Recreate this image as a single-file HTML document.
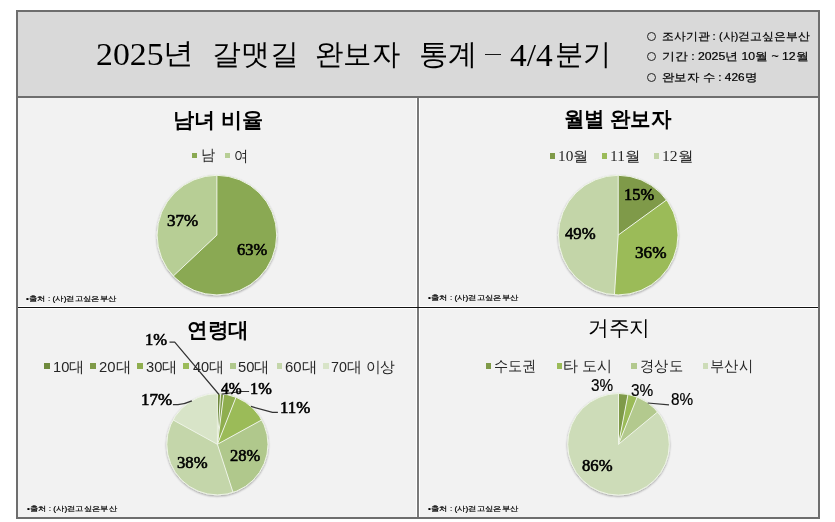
<!DOCTYPE html>
<html><head><meta charset="utf-8">
<style>
html,body{margin:0;padding:0;background:#fff;width:835px;height:522px;overflow:hidden}
.t{position:absolute;white-space:nowrap;line-height:1;color:#000;transform-origin:0 0}
#box{position:absolute;left:16px;top:10px;width:800px;height:505px;border:2px solid #6e6e6e;background:#f2f2f2}
#hdr{position:absolute;left:18px;top:12px;width:800px;height:84px;background:#d9d9d9;border-bottom:2px solid #6e6e6e}
#vdiv{position:absolute;left:417px;top:98px;width:2px;height:419px;background:#7a7a7a}
#hdiv{position:absolute;left:18px;top:307px;width:800px;height:1px;background:#111}
.wl{position:absolute;background:#fff}
.sq{position:absolute;width:5.4px;height:5.4px}
.ci{position:absolute;width:7px;height:7px;border:1.3px solid #222;border-radius:50%}
</style></head><body>
<div id="box"></div>
<div id="hdr"></div>
<div class="wl" style="left:18px;top:306px;width:800px;height:3px"></div>
<div class="wl" style="left:416px;top:98px;width:4px;height:419px"></div>
<div id="vdiv"></div>
<div id="hdiv"></div>
<svg width="835" height="522" style="position:absolute;left:0;top:0">
<defs><filter id="sh" x="-10%" y="-10%" width="120%" height="125%"><feGaussianBlur in="SourceAlpha" stdDeviation="1.2"/><feOffset dy="1.2"/><feComponentTransfer><feFuncA type="linear" slope="0.35"/></feComponentTransfer><feMerge><feMergeNode/><feMergeNode in="SourceGraphic"/></feMerge></filter></defs>
<g filter="url(#sh)"><path d="M216.9,235.1L216.90,175.30A59.8,59.8 0 1 1 173.31,276.04Z" fill="#8aa952"/>
<path d="M216.9,235.1L173.31,276.04A59.8,59.8 0 0 1 216.90,175.30Z" fill="#b7ce95"/>
<line x1="216.9" y1="235.1" x2="216.90" y2="175.30" stroke="#eef4e6" stroke-width="1.0"/>
<line x1="216.9" y1="235.1" x2="173.31" y2="276.04" stroke="#eef4e6" stroke-width="1.0"/>
<circle cx="216.9" cy="235.1" r="59.8" fill="none" stroke="#eef4e6" stroke-width="1.0"/></g>
<g filter="url(#sh)"><path d="M618.2,235.1L618.20,175.30A59.8,59.8 0 0 1 666.58,199.95Z" fill="#7f9a48"/>
<path d="M618.2,235.1L666.58,199.95A59.8,59.8 0 0 1 614.45,294.78Z" fill="#9bbb59"/>
<path d="M618.2,235.1L614.45,294.78A59.8,59.8 0 0 1 618.20,175.30Z" fill="#c3d5a8"/>
<line x1="618.2" y1="235.1" x2="618.20" y2="175.30" stroke="#eef4e6" stroke-width="1.0"/>
<line x1="618.2" y1="235.1" x2="666.58" y2="199.95" stroke="#eef4e6" stroke-width="1.0"/>
<line x1="618.2" y1="235.1" x2="614.45" y2="294.78" stroke="#eef4e6" stroke-width="1.0"/>
<circle cx="618.2" cy="235.1" r="59.8" fill="none" stroke="#eef4e6" stroke-width="1.0"/></g>
<g filter="url(#sh)"><path d="M217.4,444.3L217.40,393.70A50.6,50.6 0 0 1 220.58,393.80Z" fill="#6f8a3d"/>
<path d="M217.4,444.3L220.58,393.80A50.6,50.6 0 0 1 223.74,394.10Z" fill="#7f9a48"/>
<path d="M217.4,444.3L223.74,394.10A50.6,50.6 0 0 1 236.03,397.25Z" fill="#8fae4f"/>
<path d="M217.4,444.3L236.03,397.25A50.6,50.6 0 0 1 261.74,419.92Z" fill="#9bbb59"/>
<path d="M217.4,444.3L261.74,419.92A50.6,50.6 0 0 1 233.04,492.42Z" fill="#b0c88c"/>
<path d="M217.4,444.3L233.04,492.42A50.6,50.6 0 0 1 173.06,419.92Z" fill="#c4d6aa"/>
<path d="M217.4,444.3L173.06,419.92A50.6,50.6 0 0 1 217.40,393.70Z" fill="#d8e4c8"/>
<line x1="217.4" y1="444.3" x2="217.40" y2="393.70" stroke="#eef4e6" stroke-width="1.0"/>
<line x1="217.4" y1="444.3" x2="220.58" y2="393.80" stroke="#eef4e6" stroke-width="1.0"/>
<line x1="217.4" y1="444.3" x2="223.74" y2="394.10" stroke="#eef4e6" stroke-width="1.0"/>
<line x1="217.4" y1="444.3" x2="236.03" y2="397.25" stroke="#eef4e6" stroke-width="1.0"/>
<line x1="217.4" y1="444.3" x2="261.74" y2="419.92" stroke="#eef4e6" stroke-width="1.0"/>
<line x1="217.4" y1="444.3" x2="233.04" y2="492.42" stroke="#eef4e6" stroke-width="1.0"/>
<line x1="217.4" y1="444.3" x2="173.06" y2="419.92" stroke="#eef4e6" stroke-width="1.0"/>
<circle cx="217.4" cy="444.3" r="50.6" fill="none" stroke="#eef4e6" stroke-width="1.0"/></g>
<g filter="url(#sh)"><path d="M618.5,444.3L618.50,393.50A50.8,50.8 0 0 1 628.02,394.40Z" fill="#7f9a48"/>
<path d="M618.5,444.3L628.02,394.40A50.8,50.8 0 0 1 637.20,397.07Z" fill="#9bbb59"/>
<path d="M618.5,444.3L637.20,397.07A50.8,50.8 0 0 1 657.64,411.92Z" fill="#b3c98e"/>
<path d="M618.5,444.3L657.64,411.92A50.8,50.8 0 1 1 618.50,393.50Z" fill="#cddcb8"/>
<line x1="618.5" y1="444.3" x2="618.50" y2="393.50" stroke="#eef4e6" stroke-width="1.0"/>
<line x1="618.5" y1="444.3" x2="628.02" y2="394.40" stroke="#eef4e6" stroke-width="1.0"/>
<line x1="618.5" y1="444.3" x2="637.20" y2="397.07" stroke="#eef4e6" stroke-width="1.0"/>
<line x1="618.5" y1="444.3" x2="657.64" y2="411.92" stroke="#eef4e6" stroke-width="1.0"/>
<circle cx="618.5" cy="444.3" r="50.8" fill="none" stroke="#eef4e6" stroke-width="1.0"/></g>
<polyline points="169.5,342.2 174.7,342.2 219,394.5" fill="none" stroke="#333" stroke-width="1.2"/>
<polyline points="249.1,391.5 241.3,391.5 221.6,394.2" fill="none" stroke="#333" stroke-width="1.2"/>
<polyline points="250.9,406.4 272.5,412.4 277.9,412.4" fill="none" stroke="#333" stroke-width="1.2"/>
<path d="M172.9,404.7 L178,404.7 Q185,404 191.9,400.9" fill="none" stroke="#333" stroke-width="1.2"/>
<polyline points="647.7,403 669,404.8" fill="none" stroke="#333" stroke-width="1.2"/>
</svg>
<div class="t" style="left:96.44px;top:38.1px;font-size:32.5px;font-family:'Liberation Serif',serif;font-weight:normal;color:#000;transform:scaleX(1.0394)">2025</div>
<div class="t" style="left:163.19px;top:39.17px;font-size:29px;font-family:'Liberation Serif',serif;font-weight:normal;color:#000;transform:scaleX(1.0591)">년</div>
<div class="t" style="left:211.52px;top:39.52px;font-size:29px;font-family:'Liberation Serif',serif;font-weight:normal;color:#000;transform:scaleX(0.9932)">갈맷길</div>
<div class="t" style="left:315.44px;top:39.65px;font-size:29px;font-family:'Liberation Serif',serif;font-weight:normal;color:#000;transform:scaleX(0.978)">완보자</div>
<div class="t" style="left:419.03px;top:40.3px;font-size:29px;font-family:'Liberation Serif',serif;font-weight:normal;color:#000;transform:scaleX(1.0068)">통계</div>
<div class="t" style="left:510.19px;top:38.58px;font-size:32.5px;font-family:'Liberation Serif',serif;font-weight:normal;color:#000;transform:scaleX(1.0272)">4/4</div>
<div class="t" style="left:554.61px;top:39.95px;font-size:29px;font-family:'Liberation Serif',serif;font-weight:normal;color:#000;transform:scaleX(0.9717)">분기</div>
<div class="t" style="left:661.59px;top:31.08px;font-size:10.5px;font-family:'Liberation Sans',sans-serif;font-weight:normal;color:#000;-webkit-text-stroke:0.2px #000;transform:scaleX(1.079)">조사기관 : (사)걷고싶은부산</div>
<div class="t" style="left:661.52px;top:50.92px;font-size:10.5px;font-family:'Liberation Sans',sans-serif;font-weight:normal;color:#000;-webkit-text-stroke:0.2px #000;transform:scaleX(1.1691)">기간 : 2025년 10월 ~ 12월</div>
<div class="t" style="left:661.84px;top:72.22px;font-size:10.5px;font-family:'Liberation Sans',sans-serif;font-weight:normal;color:#000;-webkit-text-stroke:0.2px #000;transform:scaleX(1.1291)">완보자 수 : 426명</div>
<div class="t" style="left:172.98px;top:109.83px;font-size:20.5px;font-family:'Liberation Serif',serif;font-weight:bold;color:#000;transform:scaleX(1.0082)">남녀 비율</div>
<div class="t" style="left:564.48px;top:109.2px;font-size:20.5px;font-family:'Liberation Serif',serif;font-weight:bold;color:#000;transform:scaleX(0.9742)">월별 완보자</div>
<div class="t" style="left:187.13px;top:319.6px;font-size:20.5px;font-family:'Liberation Serif',serif;font-weight:bold;color:#000;transform:scaleX(0.9829)">연령대</div>
<div class="t" style="left:587.62px;top:318.48px;font-size:21px;font-family:'Liberation Serif',serif;font-weight:normal;color:#000;transform:scaleX(0.9871)">거주지</div>
<div class="t" style="left:201.35px;top:148.48px;font-size:14.5px;font-family:'Liberation Sans',sans-serif;font-weight:normal;color:#262626;transform:scaleX(0.944)">남</div>
<div class="t" style="left:233.71px;top:148.6px;font-size:14.5px;font-family:'Liberation Sans',sans-serif;font-weight:normal;color:#262626;transform:scaleX(0.9545)">여</div>
<div class="t" style="left:558.03px;top:149.72px;font-size:14px;font-family:'Liberation Serif',serif;font-weight:normal;color:#262626;transform:scaleX(1.092)">10월</div>
<div class="t" style="left:610.22px;top:149.72px;font-size:14px;font-family:'Liberation Serif',serif;font-weight:normal;color:#262626;transform:scaleX(1.1061)">11월</div>
<div class="t" style="left:662.21px;top:149.72px;font-size:14px;font-family:'Liberation Serif',serif;font-weight:normal;color:#262626;transform:scaleX(1.112)">12월</div>
<div class="t" style="left:53.39px;top:359.6px;font-size:14.5px;font-family:'Liberation Sans',sans-serif;font-weight:normal;color:#262626;transform:scaleX(1.0126)">10대</div>
<div class="t" style="left:99.13px;top:359.6px;font-size:14.5px;font-family:'Liberation Sans',sans-serif;font-weight:normal;color:#262626;transform:scaleX(1.025)">20대</div>
<div class="t" style="left:146.29px;top:359.6px;font-size:14.5px;font-family:'Liberation Sans',sans-serif;font-weight:normal;color:#262626;transform:scaleX(1.0159)">30대</div>
<div class="t" style="left:192.65px;top:359.6px;font-size:14.5px;font-family:'Liberation Sans',sans-serif;font-weight:normal;color:#262626;transform:scaleX(1.007)">40대</div>
<div class="t" style="left:238.29px;top:359.6px;font-size:14.5px;font-family:'Liberation Sans',sans-serif;font-weight:normal;color:#262626;transform:scaleX(1.0159)">50대</div>
<div class="t" style="left:284.73px;top:359.6px;font-size:14.5px;font-family:'Liberation Sans',sans-serif;font-weight:normal;color:#262626;transform:scaleX(1.025)">60대</div>
<div class="t" style="left:331.06px;top:359.6px;font-size:14.5px;font-family:'Liberation Sans',sans-serif;font-weight:normal;color:#262626;transform:scaleX(0.9851)">70대 이상</div>
<div class="t" style="left:494.16px;top:359.05px;font-size:14.5px;font-family:'Liberation Sans',sans-serif;font-weight:normal;color:#262626;transform:scaleX(0.9437)">수도권</div>
<div class="t" style="left:563.44px;top:359.05px;font-size:14.5px;font-family:'Liberation Sans',sans-serif;font-weight:normal;color:#262626;transform:scaleX(1.0067)">타 도시</div>
<div class="t" style="left:639.81px;top:359.05px;font-size:14.5px;font-family:'Liberation Sans',sans-serif;font-weight:normal;color:#262626;transform:scaleX(0.9515)">경상도</div>
<div class="t" style="left:710.44px;top:359.05px;font-size:14.5px;font-family:'Liberation Sans',sans-serif;font-weight:normal;color:#262626;transform:scaleX(0.9552)">부산시</div>
<div class="t" style="left:167.07px;top:213.25px;font-size:16px;font-family:'Liberation Serif',serif;font-weight:normal;color:#000;-webkit-text-stroke:0.6px #000;transform:scaleX(1.0632)">37%</div>
<div class="t" style="left:236.84px;top:242.0px;font-size:16px;font-family:'Liberation Serif',serif;font-weight:normal;color:#000;-webkit-text-stroke:0.6px #000;transform:scaleX(1.0296)">63%</div>
<div class="t" style="left:624.08px;top:187.45px;font-size:16px;font-family:'Liberation Serif',serif;font-weight:normal;color:#000;-webkit-text-stroke:0.6px #000;transform:scaleX(1.025)">15%</div>
<div class="t" style="left:564.6px;top:225.95px;font-size:16px;font-family:'Liberation Serif',serif;font-weight:normal;color:#000;-webkit-text-stroke:0.6px #000;transform:scaleX(1.0448)">49%</div>
<div class="t" style="left:634.56px;top:245.05px;font-size:16px;font-family:'Liberation Serif',serif;font-weight:normal;color:#000;-webkit-text-stroke:0.6px #000;transform:scaleX(1.0737)">36%</div>
<div class="t" style="left:145.16px;top:331.85px;font-size:16px;font-family:'Liberation Serif',serif;font-weight:normal;color:#000;-webkit-text-stroke:0.6px #000;transform:scaleX(1.035)">1%</div>
<div class="t" style="left:140.54px;top:392.4px;font-size:16px;font-family:'Liberation Serif',serif;font-weight:normal;color:#000;-webkit-text-stroke:0.6px #000;transform:scaleX(1.0571)">17%</div>
<div class="t" style="left:221.0px;top:381.15px;font-size:16px;font-family:'Liberation Serif',serif;font-weight:normal;color:#000;-webkit-text-stroke:0.6px #000;transform:scaleX(0.9667)">4%</div>
<div class="t" style="left:250.48px;top:381.15px;font-size:16px;font-family:'Liberation Serif',serif;font-weight:normal;color:#000;-webkit-text-stroke:0.6px #000;transform:scaleX(1.02)">1%</div>
<div class="t" style="left:279.55px;top:399.95px;font-size:16px;font-family:'Liberation Serif',serif;font-weight:normal;color:#000;-webkit-text-stroke:0.6px #000;transform:scaleX(1.0545)">11%</div>
<div class="t" style="left:176.88px;top:454.8px;font-size:16px;font-family:'Liberation Serif',serif;font-weight:normal;color:#000;-webkit-text-stroke:0.6px #000;transform:scaleX(1.0421)">38%</div>
<div class="t" style="left:229.99px;top:447.95px;font-size:16px;font-family:'Liberation Serif',serif;font-weight:normal;color:#000;-webkit-text-stroke:0.6px #000;transform:scaleX(1.0281)">28%</div>
<div class="t" style="left:591.42px;top:378.25px;font-size:16px;font-family:'Liberation Sans',sans-serif;font-weight:normal;color:#000;-webkit-text-stroke:0.2px #000;transform:scaleX(0.9573)">3%</div>
<div class="t" style="left:630.62px;top:383.4px;font-size:16px;font-family:'Liberation Sans',sans-serif;font-weight:normal;color:#000;-webkit-text-stroke:0.2px #000;transform:scaleX(0.9618)">3%</div>
<div class="t" style="left:671.32px;top:392.35px;font-size:16px;font-family:'Liberation Sans',sans-serif;font-weight:normal;color:#000;-webkit-text-stroke:0.2px #000;transform:scaleX(0.9573)">8%</div>
<div class="t" style="left:582.34px;top:458.4px;font-size:16px;font-family:'Liberation Serif',serif;font-weight:normal;color:#000;-webkit-text-stroke:0.6px #000;transform:scaleX(1.04)">86%</div>
<div class="t" style="left:26.3px;top:294.5px;font-size:7px;font-family:'Liberation Sans',sans-serif;font-weight:normal;color:#000;-webkit-text-stroke:0.2px #000;transform:scaleX(1.1908)">•출처 : (사)걷고싶은부산</div>
<div class="t" style="left:427.6px;top:293.95px;font-size:7px;font-family:'Liberation Sans',sans-serif;font-weight:normal;color:#000;-webkit-text-stroke:0.2px #000;transform:scaleX(1.1894)">•출처 : (사)걷고싶은부산</div>
<div class="t" style="left:26.9px;top:504.6px;font-size:7px;font-family:'Liberation Sans',sans-serif;font-weight:normal;color:#000;-webkit-text-stroke:0.2px #000;transform:scaleX(1.1828)">•출처 : (사)걷고싶은부산</div>
<div class="t" style="left:427.6px;top:504.7px;font-size:7px;font-family:'Liberation Sans',sans-serif;font-weight:normal;color:#000;-webkit-text-stroke:0.2px #000;transform:scaleX(1.1894)">•출처 : (사)걷고싶은부산</div>
<div style="position:absolute;left:485.3px;top:53.5px;width:15.3px;height:1.4px;background:#1a1a1a"></div>
<div class="ci" style="left:646.9px;top:32.2px"></div>
<div class="ci" style="left:646.9px;top:51.7px"></div>
<div class="ci" style="left:646.9px;top:73.0px"></div>
<div class="sq" style="left:192px;top:153px;background:#8aa952"></div>
<div class="sq" style="left:224.8px;top:153px;background:#b7ce95"></div>
<div class="sq" style="left:549.8px;top:153.2px;background:#7f9a48"></div>
<div class="sq" style="left:602px;top:153.2px;background:#9bbb59"></div>
<div class="sq" style="left:654px;top:153.2px;background:#c3d5a8"></div>
<div class="sq" style="left:44.2px;top:363.4px;background:#6f8a3d"></div>
<div class="sq" style="left:90.3px;top:363.4px;background:#7f9a48"></div>
<div class="sq" style="left:137.2px;top:363.4px;background:#8fae4f"></div>
<div class="sq" style="left:183.3px;top:363.4px;background:#9bbb59"></div>
<div class="sq" style="left:230.4px;top:363.4px;background:#b0c88c"></div>
<div class="sq" style="left:277.1px;top:363.4px;background:#c4d6aa"></div>
<div class="sq" style="left:323.4px;top:363.4px;background:#d8e4c8"></div>
<div class="sq" style="left:485.9px;top:363.2px;background:#7f9a48"></div>
<div class="sq" style="left:557.1px;top:363.2px;background:#9bbb59"></div>
<div class="sq" style="left:631.4px;top:363.2px;background:#b3c98e"></div>
<div class="sq" style="left:702.7px;top:363.2px;background:#cddcb8"></div>
</body></html>
